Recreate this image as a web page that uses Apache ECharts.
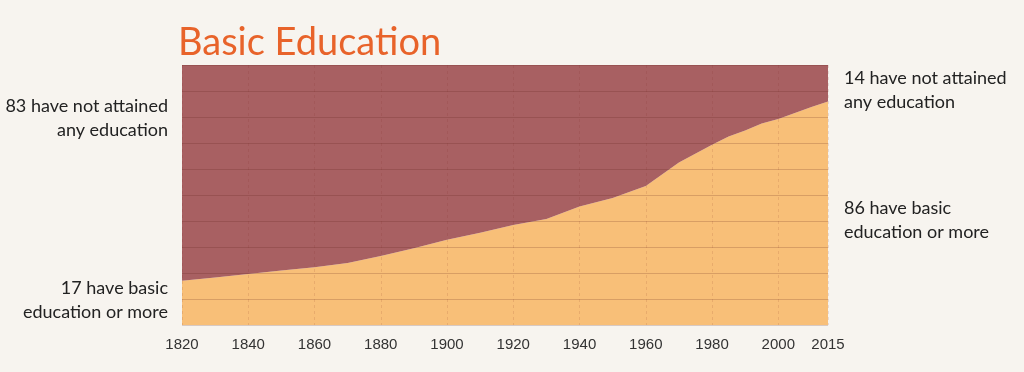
<!DOCTYPE html>
<html><head><meta charset="utf-8">
<script src="https://cdn.jsdelivr.net/npm/echarts@6/dist/echarts.min.js"></script>
<style>html,body{margin:0;padding:0;background:#f7f4ef;}#c{width:1024px;height:372px;}</style>
</head><body><div id="c"></div>
<script>
const years = [1820,1830,1840,1850,1860,1870,1880,1890,1900,1910,1920,1930,1940,1950,1960,1970,1980,1985,1990,1995,2000,2005,2010,2015];
const basicEducation = [17,18.3,19.6,21,22.2,23.8,26.5,29.5,32.8,35.5,38.5,40.8,45.6,48.8,53.5,62.5,69.3,72.5,74.8,77.5,79.2,81.5,83.8,86];
const noEducation = [83,81.7,80.4,79,77.8,76.2,73.5,70.5,67.2,64.5,61.5,59.2,54.4,51.2,46.5,37.5,30.7,27.5,25.2,22.5,20.8,18.5,16.2,14];
const titleText = 'Basic Education';
const leftTop = ['83 have not attained','any education'];
const leftBottom = ['17 have basic','education or more'];
const rightTop = ['14 have not attained','any education'];
const rightBottom = ['86 have basic','education or more'];

const chart = echarts.init(document.getElementById('c'));
const labelFont = {fontFamily:'Lato', fontSize:18, fill:'#222'};
function txt(lines, x, y, align){
  return {type:'text', x:x, y:y, z:10, style:Object.assign({text:lines.join('\n'), textAlign:align, textVerticalAlign:'middle', lineHeight:23.5}, labelFont)};
}
chart.setOption({
  backgroundColor:'#f7f4ef',
  animation:false,
  title:{text:titleText, left:173, top:19, textStyle:{color:'#e8632a', fontFamily:'Lato', fontSize:38, fontWeight:'normal'}},
  grid:{left:182, right:196, top:65, bottom:47},
  xAxis:{type:'value', min:1820, max:2015, interval:20, z:5,
    axisLine:{show:false}, axisTick:{show:false},
    axisLabel:{color:'#333', fontFamily:'Liberation Sans', fontSize:15, margin:12, showMaxLabel:true, formatter:v=>String(v)},
    splitLine:{show:true, lineStyle:{color:'rgba(120,40,30,0.13)', type:[3,3], width:1}}},
  yAxis:{type:'value', min:0, max:100, interval:10, z:5,
    axisLine:{show:false}, axisTick:{show:false}, axisLabel:{show:false},
    splitLine:{show:true, lineStyle:{color:'rgba(90,30,20,0.2)', width:1.2}}},
  series:[
    {type:'line', stack:'s', z:1, encode:{x:1, y:0}, data:years.map((y,i)=>[basicEducation[i],y]), showSymbol:false, lineStyle:{width:0}, areaStyle:{color:'#f8bf78', opacity:1}},
    {type:'line', stack:'s', z:1, encode:{x:1, y:0}, data:years.map((y,i)=>[noEducation[i],y]), showSymbol:false, lineStyle:{width:0}, areaStyle:{color:'#a86062', opacity:1}}
  ],
  graphic:[
    txt(leftTop,168,118,'right'),
    txt(leftBottom,168,300,'right'),
    txt(rightTop,844,90,'left'),
    txt(rightBottom,844,220,'left')
  ]
});
</script></body></html>
